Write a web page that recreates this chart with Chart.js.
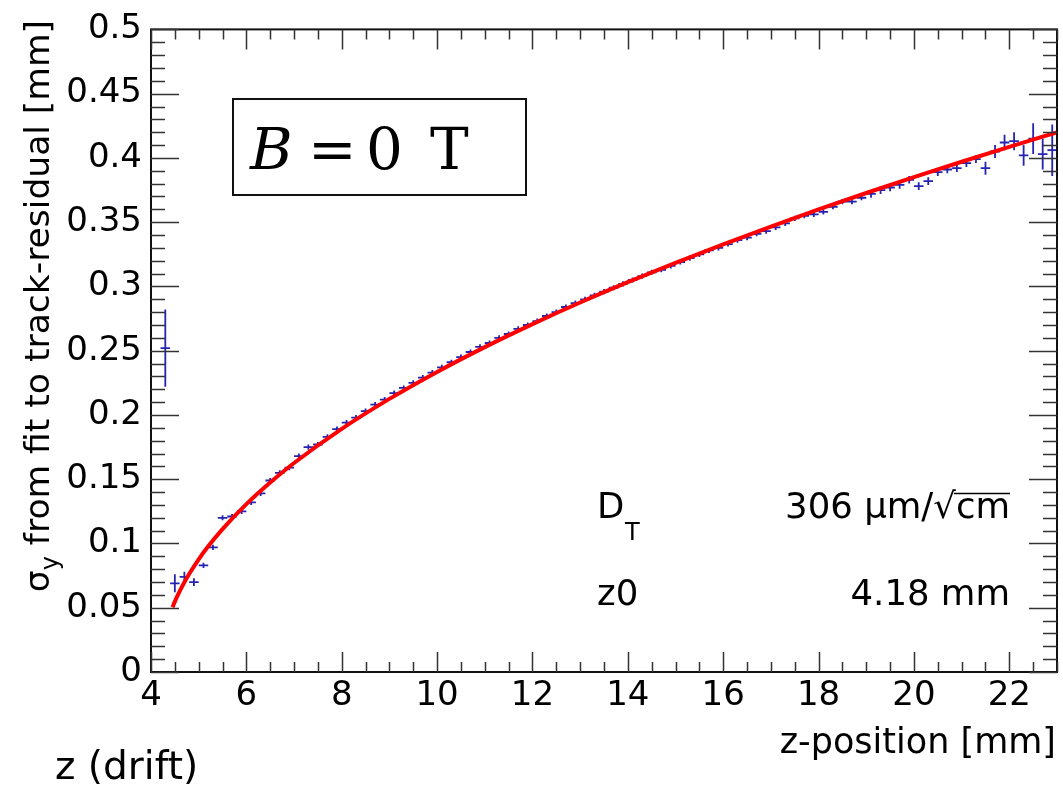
<!DOCTYPE html>
<html>
<head>
<meta charset="utf-8">
<script src="https://cdn.jsdelivr.net/npm/chart.js@4"></script>
<style>
  html, body { margin: 0; padding: 0; background: #fff; }
  canvas { display: block; }
</style>
</head>
<body>
<canvas id="chart" width="1063" height="789"></canvas>
<script>
// ---------------------------------------------------------------------
// data: bin centres (mm), sigma_y (mm), errors
// ---------------------------------------------------------------------
const zPos = [
    4.3, 4.5, 4.7, 4.9, 5.1, 5.3, 5.5, 5.7, 5.9, 6.1,
    6.3, 6.5, 6.7, 6.9, 7.1, 7.3, 7.5, 7.7, 7.9, 8.1,
    8.3, 8.5, 8.7, 8.9, 9.1, 9.3, 9.5, 9.7, 9.9, 10.1,
    10.3, 10.5, 10.7, 10.9, 11.1, 11.3, 11.5, 11.7, 11.9, 12.1,
    12.3, 12.5, 12.7, 12.9, 13.1, 13.3, 13.5, 13.7, 13.9, 14.1,
    14.3, 14.5, 14.7, 14.9, 15.1, 15.3, 15.5, 15.7, 15.9, 16.1,
    16.3, 16.5, 16.7, 16.9, 17.1, 17.3, 17.5, 17.7, 17.9, 18.1,
    18.3, 18.5, 18.7, 18.9, 19.1, 19.3, 19.5, 19.7, 19.9, 20.1,
    20.3, 20.5, 20.7, 20.9, 21.1, 21.3, 21.5, 21.7, 21.9, 22.1,
    22.3, 22.5, 22.7, 22.9
];
const sigma = [
    0.252, 0.069, 0.074, 0.070, 0.083, 0.097, 0.120, 0.121, 0.125, 0.132,
    0.139, 0.149, 0.155, 0.159, 0.168, 0.175, 0.177, 0.183, 0.189, 0.194,
    0.198, 0.203, 0.208, 0.212, 0.217, 0.221, 0.225, 0.229, 0.233, 0.237,
    0.241, 0.245, 0.249, 0.253, 0.256, 0.260, 0.263, 0.267, 0.270, 0.273,
    0.277, 0.280, 0.284, 0.287, 0.290, 0.293, 0.296, 0.299, 0.302, 0.305,
    0.308, 0.311, 0.313, 0.316, 0.319, 0.322, 0.325, 0.328, 0.330, 0.333,
    0.336, 0.338, 0.341, 0.343, 0.346, 0.349, 0.353, 0.355, 0.356, 0.358,
    0.362, 0.366, 0.366, 0.369, 0.372, 0.375, 0.377, 0.379, 0.383, 0.378,
    0.382, 0.389, 0.391, 0.392, 0.396, 0.399, 0.392, 0.405, 0.412, 0.413,
    0.402, 0.415, 0.403, 0.406
];
const sigmaErr = [
    0.030, 0.007, 0.004, 0.003, 0.002, 0.002, 0.002, 0.002, 0.002, 0.002,
    0.002, 0.002, 0.002, 0.002, 0.002, 0.002, 0.002, 0.002, 0.002, 0.002,
    0.002, 0.002, 0.002, 0.002, 0.002, 0.002, 0.002, 0.002, 0.002, 0.002,
    0.002, 0.002, 0.002, 0.002, 0.002, 0.002, 0.002, 0.002, 0.002, 0.002,
    0.002, 0.002, 0.002, 0.002, 0.002, 0.002, 0.002, 0.002, 0.002, 0.002,
    0.002, 0.002, 0.002, 0.002, 0.002, 0.002, 0.002, 0.002, 0.002, 0.002,
    0.002, 0.002, 0.002, 0.002, 0.002, 0.002, 0.002, 0.002, 0.002, 0.002,
    0.002, 0.002, 0.002, 0.002, 0.003, 0.003, 0.003, 0.003, 0.003, 0.003,
    0.003, 0.003, 0.003, 0.003, 0.003, 0.003, 0.005, 0.005, 0.006, 0.007,
    0.008, 0.012, 0.012, 0.020
];
const zHalfBin = 0.1;

// red fit curve
const fitZ = [4.45, 4.5, 4.6, 4.7, 4.8, 5.0, 5.2, 5.5, 6, 6.5, 7, 8, 9, 10, 11,
              12, 13, 14, 15, 16, 17, 18, 19, 20, 21, 22, 23];
const fitSigma = [0.0503, 0.0548, 0.0627, 0.0698, 0.0762, 0.0877, 0.0978, 0.1112,
                  0.1306, 0.1474, 0.1626, 0.1892, 0.2125, 0.2335, 0.2528, 0.2707,
                  0.2875, 0.3033, 0.3184, 0.3328, 0.3466, 0.3599, 0.3727, 0.3850,
                  0.3970, 0.4086, 0.4199];

// tick labels
const xTickVals = [4, 6, 8, 10, 12, 14, 16, 18, 20, 22];
const yTickVals = [0, 0.05, 0.1, 0.15, 0.2, 0.25, 0.3, 0.35, 0.4, 0.45, 0.5];

const SANS = 'DejaVu Sans';

// =====================================================================
// PLUGINS
// =====================================================================
// "+" markers with error bars, drawn under the fit line
const errorBars = {
    id: 'errorBars',
    beforeDatasetsDraw(chart) {
        const { ctx, scales: { x, y } } = chart;
        ctx.save();
        ctx.strokeStyle = '#2424b0';
        ctx.lineWidth = 1.8;
        ctx.beginPath();
        zPos.forEach((z, i) => {
            const px = x.getPixelForValue(z);
            const py = y.getPixelForValue(sigma[i]);
            ctx.moveTo(x.getPixelForValue(z - zHalfBin), py);
            ctx.lineTo(x.getPixelForValue(z + zHalfBin), py);
            ctx.moveTo(px, y.getPixelForValue(sigma[i] - sigmaErr[i]));
            ctx.lineTo(px, y.getPixelForValue(sigma[i] + sigmaErr[i]));
        });
        ctx.stroke();
        ctx.restore();
    }
};

// ROOT style frame with ticks pointing inwards on all four sides
const frame = {
    id: 'frame',
    afterDraw(chart) {
        const { ctx, chartArea: a, scales: { x, y } } = chart;
        ctx.save();
        ctx.strokeStyle = '#111';
        ctx.lineWidth = 2;
        ctx.strokeRect(a.left, a.top, a.right - a.left, a.bottom - a.top);

        ctx.strokeStyle = '#333';
        ctx.lineWidth = 1.5;
        ctx.beginPath();
        for (let k = 0; k <= 38; k++) {
            const v = 4 + k * 0.5;
            const px = Math.round(x.getPixelForValue(v)) + 0.5;
            const len = (k % 4 === 0) ? 20 : 10;
            ctx.moveTo(px, a.bottom); ctx.lineTo(px, a.bottom - len);
            ctx.moveTo(px, a.top); ctx.lineTo(px, a.top + len);
        }
        for (let k = 0; k <= 50; k++) {
            const py = Math.round(y.getPixelForValue(k * 0.01)) + 0.5;
            const len = (k % 5 === 0) ? 28 : 14;
            ctx.moveTo(a.left, py); ctx.lineTo(a.left + len, py);
            ctx.moveTo(a.right, py); ctx.lineTo(a.right - len, py);
        }
        ctx.stroke();
        ctx.restore();
    }
};

// axis titles, fit results box, B field label
const annotations = {
    id: 'annotations',
    afterDraw(chart) {
        const { ctx } = chart;
        ctx.save();
        ctx.fillStyle = '#000';

        // y axis title, rotated, flush with the top of the axis
        ctx.save();
        ctx.translate(49, 20);
        ctx.rotate(-Math.PI / 2);
        const big = '34.5px "' + SANS + '"', small = '24px "' + SANS + '"';
        const rest = ' from fit to track-residual [mm]';
        ctx.font = big;
        const wSig = ctx.measureText('σ').width, wRest = ctx.measureText(rest).width;
        ctx.font = small;
        const wSub = ctx.measureText('y').width;
        let cx = -(wSig + wSub + wRest);
        ctx.textBaseline = 'alphabetic';
        ctx.textAlign = 'left';
        ctx.font = big; ctx.fillText('σ', cx, 0); cx += wSig;
        ctx.font = small; ctx.fillText('y', cx, 9); cx += wSub;
        ctx.font = big; ctx.fillText(rest, cx, 0);
        ctx.restore();

        // x axis title
        ctx.font = '35px "' + SANS + '"';
        ctx.textAlign = 'right';
        ctx.textBaseline = 'alphabetic';
        ctx.fillText('z-position [mm]', 1056, 753);

        // stray caption under the frame
        ctx.textAlign = 'left';
        ctx.font = '39px "' + SANS + '"';
        ctx.fillText('z (drift)', 55, 779);

        // fit parameters
        ctx.font = '35.5px "' + SANS + '"';
        ctx.fillText('D', 597, 518);
        ctx.font = '24px "' + SANS + '"';
        ctx.fillText('T', 625, 540);
        ctx.font = '35.5px "' + SANS + '"';
        ctx.fillText('z0', 597, 605);
        ctx.textAlign = 'right';
        ctx.fillText('306 μm/√cm', 1010, 518);
        ctx.fillText('4.18 mm', 1010, 605);
        const wCm = ctx.measureText('cm').width;
        ctx.lineWidth = 1.5;
        ctx.strokeStyle = '#000';
        ctx.beginPath();
        ctx.moveTo(1010 - wCm - 2, 493.5);
        ctx.lineTo(1010, 493.5);
        ctx.stroke();

        // B = 0 T box
        ctx.lineWidth = 2;
        ctx.strokeStyle = '#111';
        ctx.strokeRect(233, 99, 293, 96);
        ctx.textAlign = 'left';
        ctx.font = 'italic 58px "DejaVu Serif"';
        ctx.fillText('B', 250, 169);
        ctx.font = '58px "DejaVu Serif"';
        ctx.fillText('=', 308, 169);
        ctx.fillText('0', 366, 169);
        ctx.fillText('T', 430, 169);

        ctx.restore();
    }
};

// =====================================================================
// CHART
// =====================================================================
const ctx = document.getElementById('chart').getContext('2d');
new Chart(ctx, {
    type: 'scatter',
    data: {
        datasets: [
            {
                label: 'fit',
                type: 'line',
                data: fitZ.map((z, i) => ({ x: z, y: fitSigma[i] })),
                borderColor: '#ff0000',
                borderWidth: 4,
                pointRadius: 0,
                cubicInterpolationMode: 'monotone',
                fill: false
            },
            {
                label: 'sigma_y',
                data: zPos.map((z, i) => ({ x: z, y: sigma[i] })),
                pointRadius: 0
            }
        ]
    },
    options: {
        responsive: false,
        animation: false,
        layout: { padding: { top: 20, right: 6, left: 0, bottom: 0 } },
        plugins: {
            legend: { display: false },
            tooltip: { enabled: false }
        },
        scales: {
            x: {
                type: 'linear',
                min: 4,
                max: 23,
                afterBuildTicks: s => { s.ticks = xTickVals.map(v => ({ value: v })); },
                afterFit: s => { s.height = 117; },
                grid: { display: false, drawTicks: false },
                border: { display: false },
                ticks: {
                    color: '#000',
                    font: { family: SANS, size: 34 },
                    padding: 4,
                    maxRotation: 0,
                    autoSkip: false,
                    callback: v => String(v)
                }
            },
            y: {
                type: 'linear',
                min: 0,
                max: 0.5,
                afterBuildTicks: s => { s.ticks = yTickVals.map(v => ({ value: v })); },
                afterFit: s => { s.width = 151; },
                grid: { display: false, drawTicks: false },
                border: { display: false },
                ticks: {
                    color: '#000',
                    font: { family: SANS, size: 34 },
                    padding: 9,
                    autoSkip: false,
                    callback: v => String(v)
                }
            }
        }
    },
    plugins: [errorBars, frame, annotations]
});
</script>
</body>
</html>
